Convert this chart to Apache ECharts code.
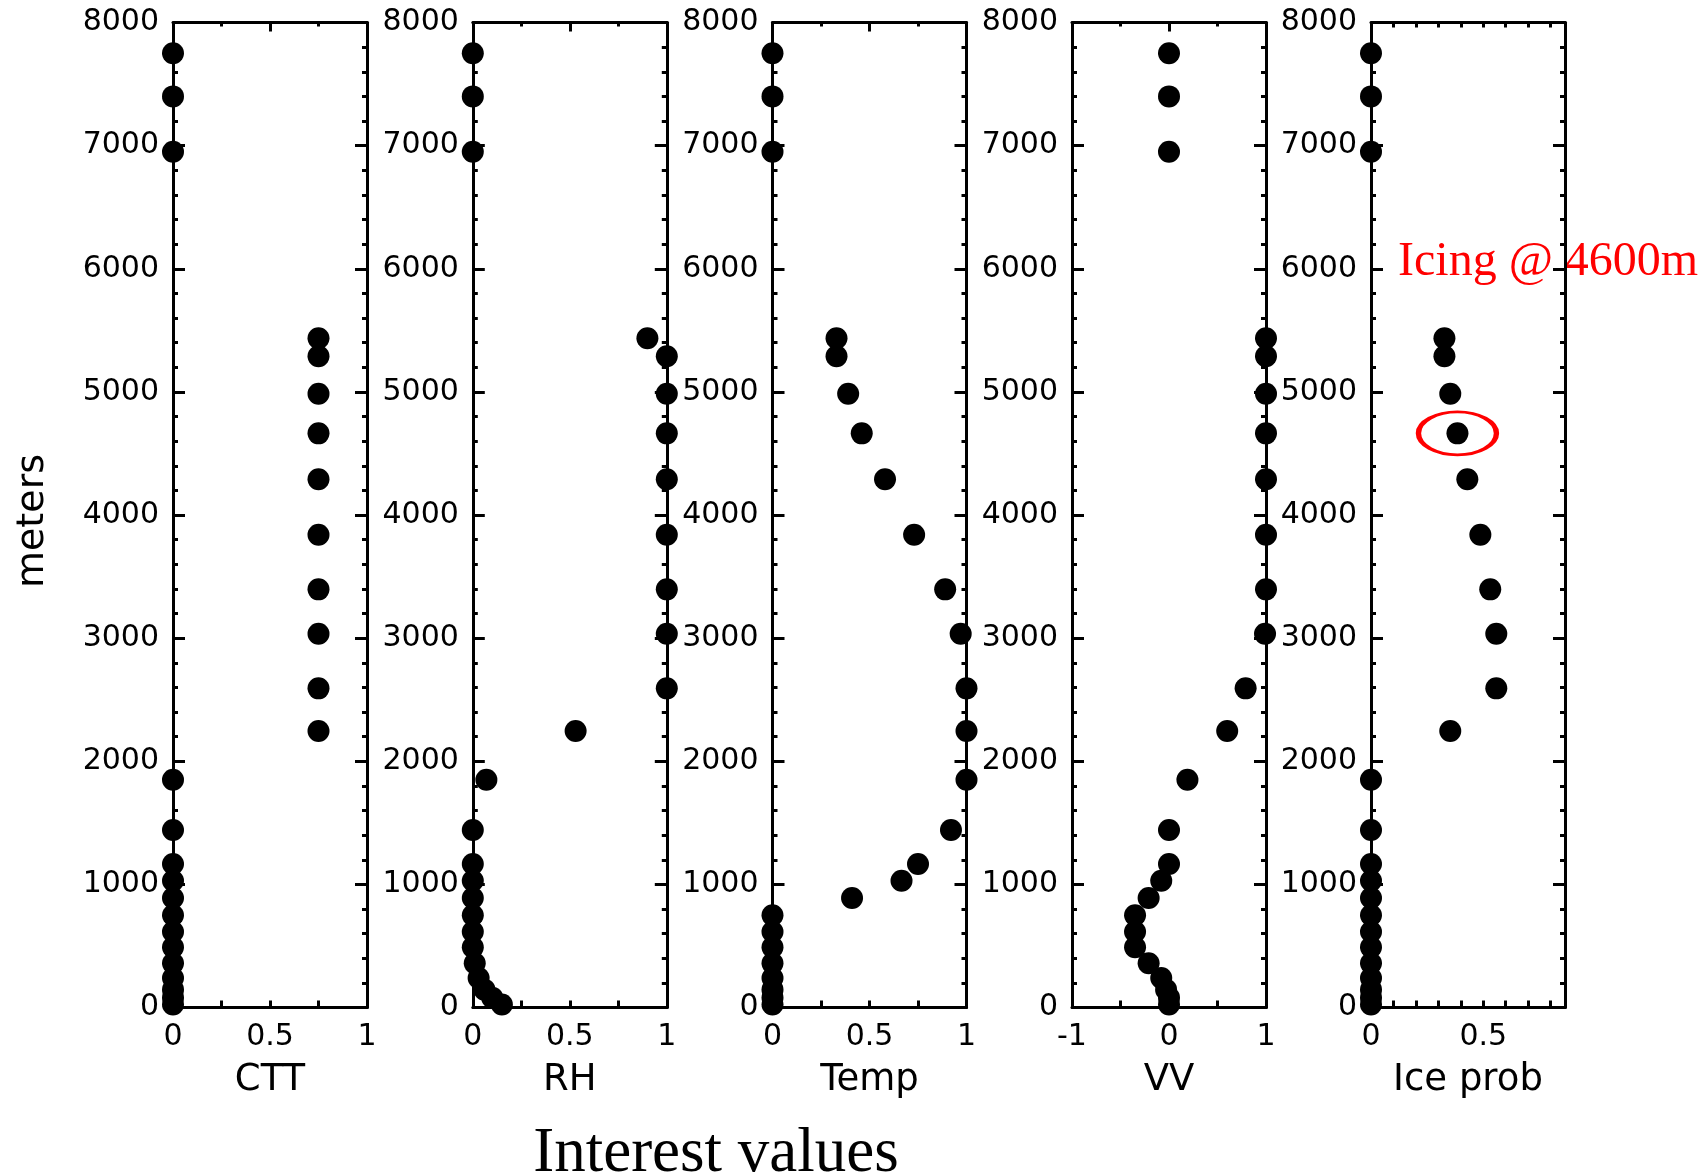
<!DOCTYPE html>
<html><head><meta charset="utf-8">
<script src="https://cdn.jsdelivr.net/npm/echarts@6/dist/echarts.min.js"></script>
<style>html,body{margin:0;padding:0;background:#fff}#c{width:1708px;height:1173px}</style>
</head><body><div id="c"></div>
<script>
// heights (m) of each model level
const heights = [7750, 7400, 6950, 5435, 5290, 4985, 4663, 4290, 3840, 3396, 3036, 2592, 2245,
                 1850, 1442, 1165, 1030, 890, 750, 615, 490, 360, 240, 145, 80, 25];
const ctt  = [0, 0, 0, 0.75, 0.75, 0.75, 0.75, 0.75, 0.75, 0.75, 0.75, 0.75, 0.75,
              0, 0, 0, 0, 0, 0, 0, 0, 0, 0, 0, 0, 0];
const rh   = [0, 0, 0, 0.9, 1, 1, 1, 1, 1, 1, 1, 1, 0.53,
              0.07, 0, 0, 0, 0, 0, 0, 0, 0.01, 0.03, 0.06, 0.1, 0.15];
const temp = [0, 0, 0, 0.33, 0.33, 0.39, 0.46, 0.58, 0.73, 0.89, 0.97, 1, 1,
              1, 0.92, 0.75, 0.665, 0.41, 0, 0, 0, 0, 0, 0, 0, 0];
const vv   = [0, 0, 0, 1, 1, 1, 1, 1, 1, 1, 0.99, 0.79, 0.6,
              0.19, 0, 0, -0.08, -0.21, -0.35, -0.35, -0.35, -0.21, -0.08, -0.03, 0, 0];
const ice  = [0, 0, 0, 0.327, 0.327, 0.353, 0.385, 0.429, 0.487, 0.531, 0.558, 0.558, 0.353,
              0, 0, 0, 0, 0, 0, 0, 0, 0, 0, 0, 0, 0];
const panelNames = ['CTT', 'RH', 'Temp', 'VV', 'Ice prob'];
const yTickLabels = [0, 1000, 2000, 3000, 4000, 5000, 6000, 7000, 8000];
const xTickLabels = [[0, 0.5, 1], [0, 0.5, 1], [0, 0.5, 1], [-1, 0, 1], [0, 0.5]];
const xRanges = [[0, 1], [0, 1], [0, 1], [-1, 1], [0, 0.864]];
const xIntervals = [0.25, 0.25, 0.25, 0.5, 0.1];
const topIntervals = [0.5, 0.5, 0.5, 1, 0.1];
const topMinor = [2, 2, 2, 2, 0];
const annotationText = 'Icing @ 4600m';
const annotationIndex = 6; // level highlighted by the red ellipse
const seriesValues = [ctt, rh, temp, vv, ice];

const chart = echarts.init(document.getElementById('c'), null, {renderer: 'canvas'});
const SANS = 'DejaVu Sans';
const lineStyle = {color: '#000', width: 3};
const lefts = [173, 472.8, 772.5, 1072, 1371];
const grids = [], xAxes = [], yAxes = [], series = [];

panelNames.forEach((name, i) => {
  grids.push({left: lefts[i], top: 22.5, width: 194, height: 985, containLabel: false});
  const labs = xTickLabels[i];
  xAxes.push({
    type: 'value', gridIndex: i, position: 'bottom',
    min: xRanges[i][0], max: xRanges[i][1], interval: xIntervals[i],
    axisLine: {show: true, onZero: false, lineStyle},
    axisTick: {show: true, inside: true, length: 7, lineStyle},
    axisLabel: {show: true, margin: 15, color: '#000', fontFamily: SANS, fontSize: 30,
      showMaxLabel: true, showMinLabel: true,
      formatter: v => labs.some(l => Math.abs(l - v) < 1e-6) ? String(+v.toFixed(2)) : ''},
    splitLine: {show: false},
    name: name, nameLocation: 'middle', nameGap: 54,
    nameTextStyle: {fontFamily: SANS, fontSize: 37, color: '#000'}
  });
  xAxes.push({
    type: 'value', gridIndex: i, position: 'top',
    min: xRanges[i][0], max: xRanges[i][1], interval: topIntervals[i],
    axisLine: {show: true, onZero: false, lineStyle},
    axisTick: {show: true, inside: true, length: topMinor[i] ? 9 : 5, lineStyle},
    minorTick: {show: topMinor[i] > 0, splitNumber: topMinor[i] || 5, length: 4, lineStyle},
    axisLabel: {show: false}, splitLine: {show: false}, minorSplitLine: {show: false}
  });
  const yBase = {
    type: 'value', gridIndex: i, min: 0, max: 8000, interval: 1000,
    axisLine: {show: true, onZero: false, lineStyle},
    axisTick: {show: true, inside: true, length: 12, lineStyle},
    minorTick: {show: true, splitNumber: 5, length: 5, lineStyle},
    splitLine: {show: false}, minorSplitLine: {show: false}
  };
  yAxes.push(Object.assign({}, yBase, {
    position: 'left',
    axisLabel: {show: true, margin: 14, color: '#000', fontFamily: SANS, fontSize: 30,
      showMaxLabel: true, showMinLabel: true,
      formatter: v => yTickLabels.includes(v) ? String(v) : ''}
  }));
  yAxes.push(Object.assign({}, yBase, {position: 'right', axisLabel: {show: false}}));
  const vals = seriesValues[i];
  const s = {
    type: 'scatter', name: name, xAxisIndex: 2 * i, yAxisIndex: 2 * i,
    data: heights.map((h, k) => [vals[k], h]),
    symbol: 'circle', symbolSize: 22, clip: false, silent: true,
    itemStyle: {color: '#000', opacity: 1}
  };
  if (i === 4) {
    s.markPoint = {
      silent: true, animation: false,
      data: [{
        coord: [vals[annotationIndex], heights[annotationIndex]],
        symbol: 'path://M0,50 C0,22.4 22.4,0 50,0 C77.6,0 100,22.4 100,50 C100,77.6 77.6,100 50,100 C22.4,100 0,77.6 0,50 Z',
        symbolSize: [78, 43],
        itemStyle: {color: 'rgba(0,0,0,0)', borderColor: '#ff0000', borderWidth: 4, opacity: 1},
        label: {show: false}
      }]
    };
  }
  series.push(s);
});

chart.setOption({
  animation: false,
  backgroundColor: '#fff',
  grid: grids, xAxis: xAxes, yAxis: yAxes, series: series,
  graphic: [
    {type: 'text', x: 33, y: 521, rotation: Math.PI / 2,
      style: {text: 'meters', font: '38px "DejaVu Sans"', fill: '#000', align: 'center', verticalAlign: 'middle'}},
    {type: 'text', x: 716, y: 1154,
      style: {text: 'Interest values', font: '63px "Liberation Serif"', fill: '#000', align: 'center', verticalAlign: 'middle'}},
    {type: 'text', x: 1398, y: 262,
      style: {text: annotationText, font: '48px "Liberation Serif"', fill: '#ff0000', align: 'left', verticalAlign: 'middle'}}
  ]
});
</script></body></html>
